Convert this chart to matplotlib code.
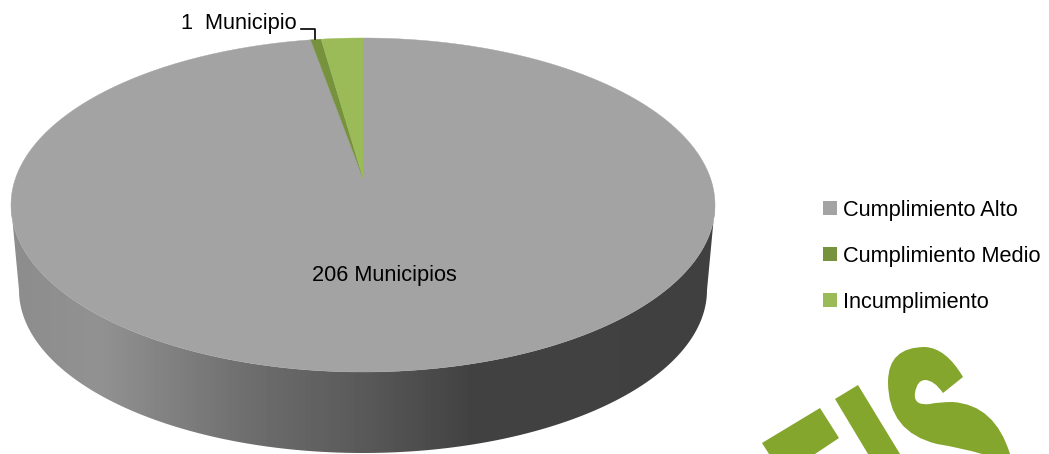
import numpy as np
import matplotlib
matplotlib.use("Agg")
import matplotlib.pyplot as plt
from matplotlib.patches import Polygon, Patch, PathPatch
from matplotlib.path import Path

categories = ["Cumplimiento Alto", "Cumplimiento Medio", "Incumplimiento"]
municipios = [206, 1, 4]
colors = ["#A3A3A3", "#76923C", "#9BBB59"]

LOGO = "#84A62D"
FONT = "Liberation Sans"
FONT_SIZE = 15.7

# pie geometry in pixels
cx, cy = 363, 205
rx, ry = 352, 167
apex = (363, 178)
bx, by = 363, 290
brx, bry = 344, 163


def rim(theta, x0=cx, y0=cy, a=rx, b=ry):
    # theta runs clockwise from 12 o'clock
    return np.column_stack([x0 + a * np.sin(theta), y0 - b * np.cos(theta)])


def draw_logo(ax):
    # corner logo, a picture in the original and cut by the page edge
    e_arm = [(762, 443), (820, 408), (839, 438), (815, 454), (769, 454)]
    i_bar = [(835, 399), (858, 385), (900, 454), (868, 454)]
    for shape in (e_arm, i_bar):
        ax.add_patch(Polygon(shape, closed=True, fc=LOGO, ec="none", zorder=1))
    c3, ln = Path.CURVE3, Path.LINETO
    s_curve = [
        ((963, 377), Path.MOVETO),
        ((946, 348), c3), ((925, 347), c3),
        ((888, 347), c3), ((888, 382), c3),
        ((888, 432), c3), ((937, 444), c3),
        ((962, 448), c3), ((982, 454), c3),
        ((1010, 454), ln),
        ((995, 405), c3), ((953, 402), c3),
        ((938, 402), c3), ((930, 404), c3),
        ((913, 406), c3), ((915, 393), c3),
        ((917, 380), c3), ((925, 380), c3),
        ((934, 380), c3), ((943, 393), c3),
        ((963, 377), Path.CLOSEPOLY),
    ]
    verts, codes = zip(*s_curve)
    ax.add_patch(PathPatch(Path(verts, codes), fc=LOGO, ec="none", zorder=1))


fig = plt.figure(figsize=(10.49, 4.54), dpi=100)
ax = fig.add_axes([0, 0, 1, 1])

# side wall, only the front half shows
front = np.linspace(np.pi / 2, 3 * np.pi / 2, 200)
wall = np.vstack([rim(front), rim(front[::-1], bx, by, brx, bry)])
shade_x = [11, 100, 250, 363, 470, 715]
shade_v = [0.55, 0.57, 0.43, 0.35, 0.26, 0.25]
xs = np.linspace(0, 1049, 1049)
img = ax.imshow(
    np.interp(xs, shade_x, shade_v)[None, :],
    extent=[0, 1049, 454, 0],
    cmap="gray",
    vmin=0,
    vmax=1,
    aspect="auto",
    zorder=1,
)
img.set_clip_path(Polygon(wall, closed=True, transform=ax.transData))

# top face
edges = np.cumsum([0] + municipios) / sum(municipios) * 2 * np.pi
handles = []
for i, name in enumerate(categories):
    arc = rim(np.linspace(edges[i], edges[i + 1], 300))
    ax.add_patch(
        Polygon(np.vstack([apex, arc]), closed=True, fc=colors[i], ec=colors[i], lw=0.3, zorder=2)
    )
    handles.append(Patch(fc=colors[i], ec="none", label=name))

# labels
ax.text(384, 275, f"{municipios[0]} Municipios", ha="center", va="center", fontsize=FONT_SIZE, family=FONT)
ax.text(181, 23, f"{municipios[1]}  Municipio", ha="left", va="center", fontsize=FONT_SIZE, family=FONT)
tip = rim(np.array([(edges[1] + edges[2]) / 2]))[0]
ax.plot([301, tip[0] - 1, tip[0] - 1], [29, 29, tip[1]], color="black", lw=1.2, zorder=3)

ax.legend(
    handles=handles,
    loc="upper left",
    bbox_to_anchor=(803 / 1049, 1 - 180 / 454),
    frameon=False,
    handlelength=0.65,
    handleheight=0.65,
    handletextpad=0.28,
    labelspacing=1.15,
    prop={"family": FONT, "size": FONT_SIZE},
)

draw_logo(ax)

ax.set_xlim(0, 1049)
ax.set_ylim(454, 0)
ax.axis("off")
fig.savefig("out.png", dpi=100)
